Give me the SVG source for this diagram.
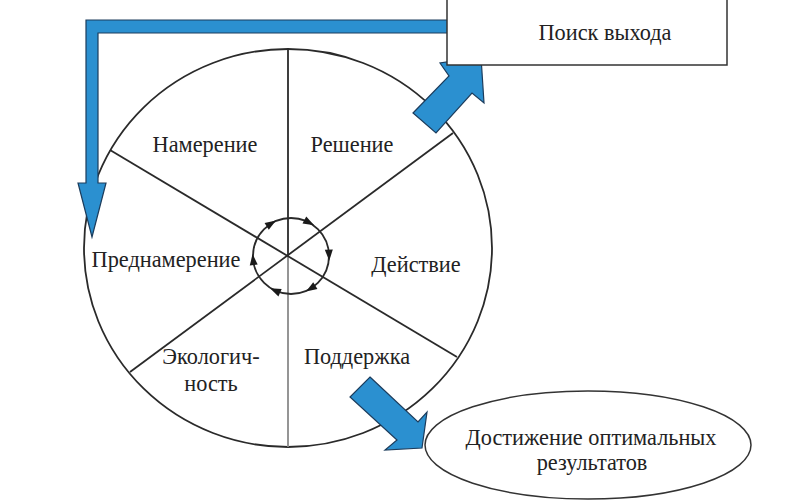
<svg xmlns="http://www.w3.org/2000/svg" width="791" height="503" viewBox="0 0 791 503">
<style>
.t{font-family:"Liberation Serif","Times New Roman",serif;font-size:22.3px;fill:#222;text-anchor:middle}
.ln{stroke:#2a2a2a;stroke-width:1.8;fill:none}
.blue{fill:#2b90d0;stroke:#1c3c5c;stroke-width:1.2;stroke-linejoin:miter}
.ah{fill:#1a1a1a}
</style>
<defs>
<polygon id="sah" points="6,0 -5,-4 -5,4"/>
</defs>
<rect width="791" height="503" fill="#fff"/>
<g id="wheel">
<ellipse cx="288" cy="248" rx="204" ry="199" class="ln"/>
<line x1="288" y1="49" x2="288" y2="256" class="ln"/>
<line x1="288" y1="256" x2="288" y2="447" stroke="#8a8a8a" stroke-width="1.8"/>
<line x1="110" y1="150" x2="457" y2="357" class="ln"/>
<line x1="453" y1="133" x2="130" y2="372" class="ln"/>
</g>
<g id="cycle">
<circle cx="291" cy="256" r="38" class="ln" stroke-width="2"/>
<use href="#sah" class="ah" transform="translate(270.9,223.8) rotate(-32)"/>
<use href="#sah" class="ah" transform="translate(308.8,222.4) rotate(28)"/>
<use href="#sah" class="ah" transform="translate(329,254.7) rotate(88)"/>
<use href="#sah" class="ah" transform="translate(311.1,288.2) rotate(148)"/>
<use href="#sah" class="ah" transform="translate(275.5,290.7) rotate(204)"/>
<use href="#sah" class="ah" transform="translate(253.2,260) rotate(264)"/>
</g>
<g id="connectors">
<path class="blue" d="M86,20 H452 V33 H98 V183 H106 L92,237 L78,183 H86 Z"/>
<polygon class="blue" points="413,113 449,76 440,63 481,57 484,103 472,93 436,133"/>
<polygon class="blue" points="370,377 418,422 427,412 422,448 385,450 397,440 350,397"/>
</g>
<g id="n-exit">
<rect x="447" y="-2" width="280" height="67" fill="#fff" stroke="#333" stroke-width="1.5"/>
<text class="t" x="605" y="40">Поиск выхода</text>
</g>
<g id="n-result">
<ellipse cx="588" cy="445" rx="163" ry="54" fill="#fff" stroke="#333" stroke-width="1.5"/>
<text class="t" x="591" y="445">Достижение оптимальных</text>
<text class="t" x="592" y="470">результатов</text>
</g>
<g id="n-intent"><text class="t" x="205" y="152">Намерение</text></g>
<g id="n-decision"><text class="t" x="352" y="152">Решение</text></g>
<g id="n-preintent"><text class="t" x="166" y="267">Преднамерение</text></g>
<g id="n-action"><text class="t" x="416" y="272">Действие</text></g>
<g id="n-ecology"><text class="t" x="211" y="364">Экологич-</text><text class="t" x="211" y="391">ность</text></g>
<g id="n-support"><text class="t" x="357" y="364">Поддержка</text></g>
</svg>
